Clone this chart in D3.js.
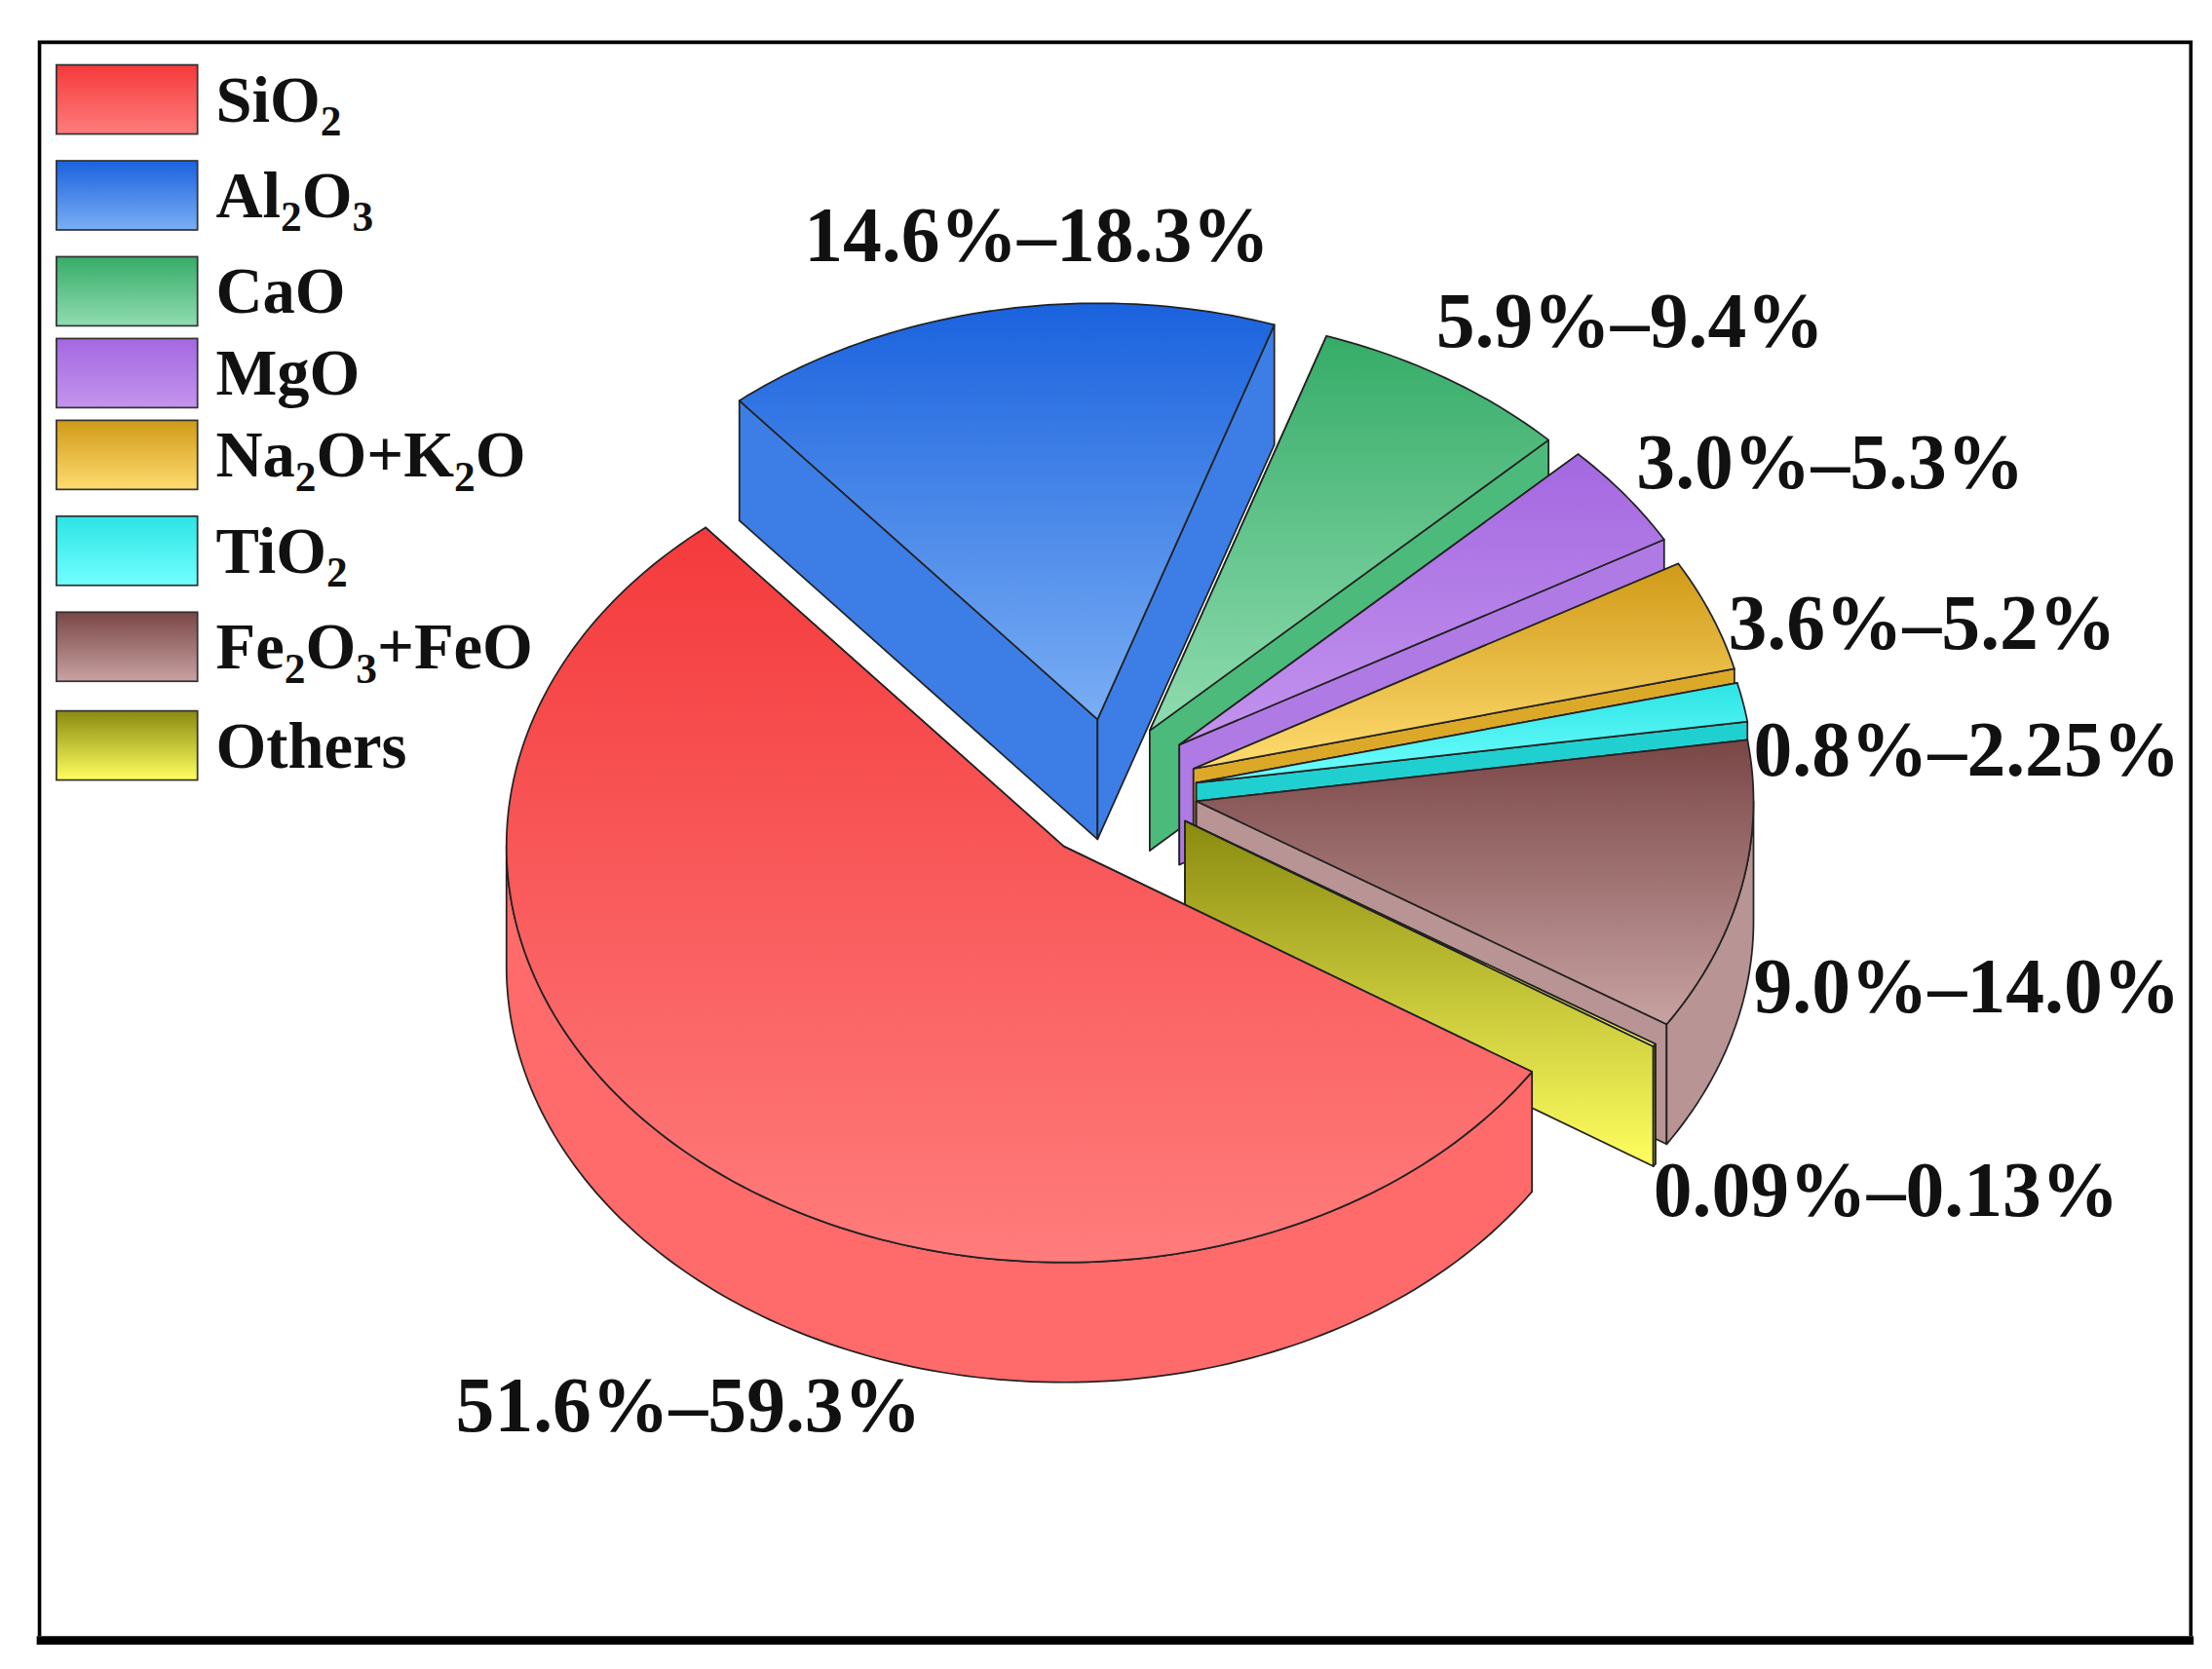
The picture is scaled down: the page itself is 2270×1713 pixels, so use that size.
<!DOCTYPE html>
<html><head><meta charset="utf-8">
<script src="https://cdn.jsdelivr.net/npm/d3@7"></script>
<style>body{margin:0;background:#fff}svg{display:block}</style>
</head><body>
<script>
// Data (clockwise order starting at the Al2O3 slice)
const categories = ["Al2O3","CaO","MgO","Na2O+K2O","TiO2","Fe2O3+FeO","Others","SiO2"];
const lowValues  = [14.6, 5.9, 3.0, 3.6, 0.8, 9.0, 0.09, 51.6];
const highValues = [18.3, 9.4, 5.3, 5.2, 2.25, 14.0, 0.13, 59.3];
const rangeLabels = ["14.6%–18.3%","5.9%–9.4%","3.0%–5.3%","3.6%–5.2%","0.8%–2.25%","9.0%–14.0%","0.09%–0.13%","51.6%–59.3%"];
const legendOrder = ["SiO2","Al2O3","CaO","MgO","Na2O+K2O","TiO2","Fe2O3+FeO","Others"];
const legendParts = {
  "SiO2":[["SiO",0],["2",1]], "Al2O3":[["Al",0],["2",1],["O",0],["3",1]], "CaO":[["CaO",0]],
  "MgO":[["MgO",0]], "Na2O+K2O":[["Na",0],["2",1],["O+K",0],["2",1],["O",0]],
  "TiO2":[["TiO",0],["2",1]], "Fe2O3+FeO":[["Fe",0],["2",1],["O",0],["3",1],["+FeO",0]], "Others":[["Others",0]]
};
// styles
const topColors = {"SiO2":["#f43a3c","#ff7c7c"],"Al2O3":["#1a62de","#7aaef4"],"CaO":["#36ac68","#90dcb0"],
  "MgO":["#a468e0","#c394ee"],"Na2O+K2O":["#d09a18","#ffdc70"],"TiO2":["#2ce4e4","#72ffff"],
  "Fe2O3+FeO":["#7a4646","#c8a2a2"],"Others":["#8a8a10","#ffff60"]};
const wallColors = {"SiO2":"#ff6a6a","Al2O3":"#3d7ee6","CaO":"#4cba7a","MgO":"#b07ae4","Na2O+K2O":"#dca828",
  "TiO2":"#20d0d0","Fe2O3+FeO":"#b89494","Others":null};
// explode offsets (layout)
const explode = {"Al2O3":[18,-90],"CaO":[55,-82],"MgO":[76,-72],"Na2O+K2O":[86,-55],"TiO2":[88,-45],
  "Fe2O3+FeO":[88,-32],"Others":[80,-18],"SiO2":[-6,0]};
const labelPos = {"Al2O3":[570,185],"CaO":[1018,246],"MgO":[1160,346],"Na2O+K2O":[1225,460],"TiO2":[1243,550],
  "Fe2O3+FeO":[1243,718],"Others":[1172,862],"SiO2":[323,1015]};

const W=2270,H=1713,k=2270/1568;
const svg=d3.select("body").append("svg").attr("width",W).attr("height",H);
const defs=svg.append("defs");
const g=svg.append("g").attr("transform",`scale(${k})`);
const font="'Liberation Serif','Times New Roman',serif";

// frame
g.append("path").attr("d","M28,1160 L28,30 L1553,30 L1553,1160").attr("fill","none").attr("stroke","#000").attr("stroke-width",2.5);
g.append("line").attr("x1",26).attr("x2",1555).attr("y1",1163).attr("y2",1163).attr("stroke","#000").attr("stroke-width",6);

Object.keys(topColors).forEach((c,i)=>{
  const gr=defs.append("linearGradient").attr("id","gt"+i).attr("x1",0).attr("y1",0).attr("x2",0).attr("y2",1);
  gr.append("stop").attr("offset","0%").attr("stop-color",topColors[c][0]);
  gr.append("stop").attr("offset","100%").attr("stop-color",topColors[c][1]);
});
const gid=c=>"url(#gt"+Object.keys(topColors).indexOf(c)+")";

const values=categories.map((c,i)=>(lowValues[i]+highValues[i])/2);
const startDeg=-40;
const pie=d3.pie().sort(null).value(d=>d).startAngle(startDeg*Math.PI/180).endAngle((startDeg+360)*Math.PI/180);
const arcs=pie(values);
const cx=760,cy=600,rx=395,ry=295,depth=85;
const sx=d3.scaleLinear().domain([-1,1]).range([cx-rx,cx+rx]);
const sy=d3.scaleLinear().domain([-1,1]).range([cy-ry,cy+ry]);
function P(a,o,dz){return [sx(Math.sin(a))+o[0], sy(-Math.cos(a))+o[1]+(dz||0)];}
function arcPts(a0,a1,o,dz){const n=Math.max(4,Math.ceil(Math.abs(a1-a0)/0.02));const r=[];for(let j=0;j<=n;j++)r.push(P(a0+(a1-a0)*j/n,o,dz));return r;}
const line=d3.line();

arcs.forEach((a,i)=>{
  const c=categories[i], o=explode[c];
  const C=[cx+o[0],cy+o[1]], Cb=[C[0],C[1]+depth];
  const sg=g.append("g");
  const wf=wallColors[c]||gid(c);
  function add(d,fill){sg.append("path").attr("d",d).attr("fill",fill).attr("stroke","#222").attr("stroke-width",1.2).attr("stroke-linejoin","round");}
  [a.startAngle,a.endAngle].forEach(ang=>{
    const R=P(ang,o), Rb=P(ang,o,depth);
    add(line([C,R,Rb,Cb])+"Z", wf);
  });
  // outer wall, front-facing part only
  const f0=Math.max(a.startAngle,Math.PI/2), f1=Math.min(a.endAngle,1.5*Math.PI);
  if(f1>f0){
    const top=arcPts(f0,f1,o,0), bot=arcPts(f1,f0,o,depth);
    add(line(top.concat(bot))+"Z", wf);
  }
  const top=arcPts(a.startAngle,a.endAngle,o,0);
  add(line([C].concat(top))+"Z", gid(c));
});

// labels
categories.forEach((c,i)=>{
  g.append("text").attr("x",labelPos[c][0]).attr("y",labelPos[c][1]).attr("font-family",font)
   .attr("font-weight","bold").attr("font-size",55).attr("fill","#111").text(rangeLabels[i]);
});

// legend
const legTops=[46,114,182,240,298,366,434,504];
legendOrder.forEach((c,i)=>{
  const y=legTops[i];
  g.append("rect").attr("x",40).attr("y",y).attr("width",100).attr("height",49).attr("fill",gid(c)).attr("stroke","#333").attr("stroke-width",1.2);
  const t=g.append("text").attr("x",153).attr("y",y+40).attr("font-family",font).attr("font-weight","bold").attr("font-size",46).attr("fill","#111");
  let prev=0;
  legendParts[c].forEach(([s,sub])=>{
    const ts=t.append("tspan").text(s);
    if(sub){ts.attr("font-size",30).attr("dy",10);}
    else if(prev){ts.attr("dy",-10);}
    prev=sub;
  });
});
</script>
</body></html>
